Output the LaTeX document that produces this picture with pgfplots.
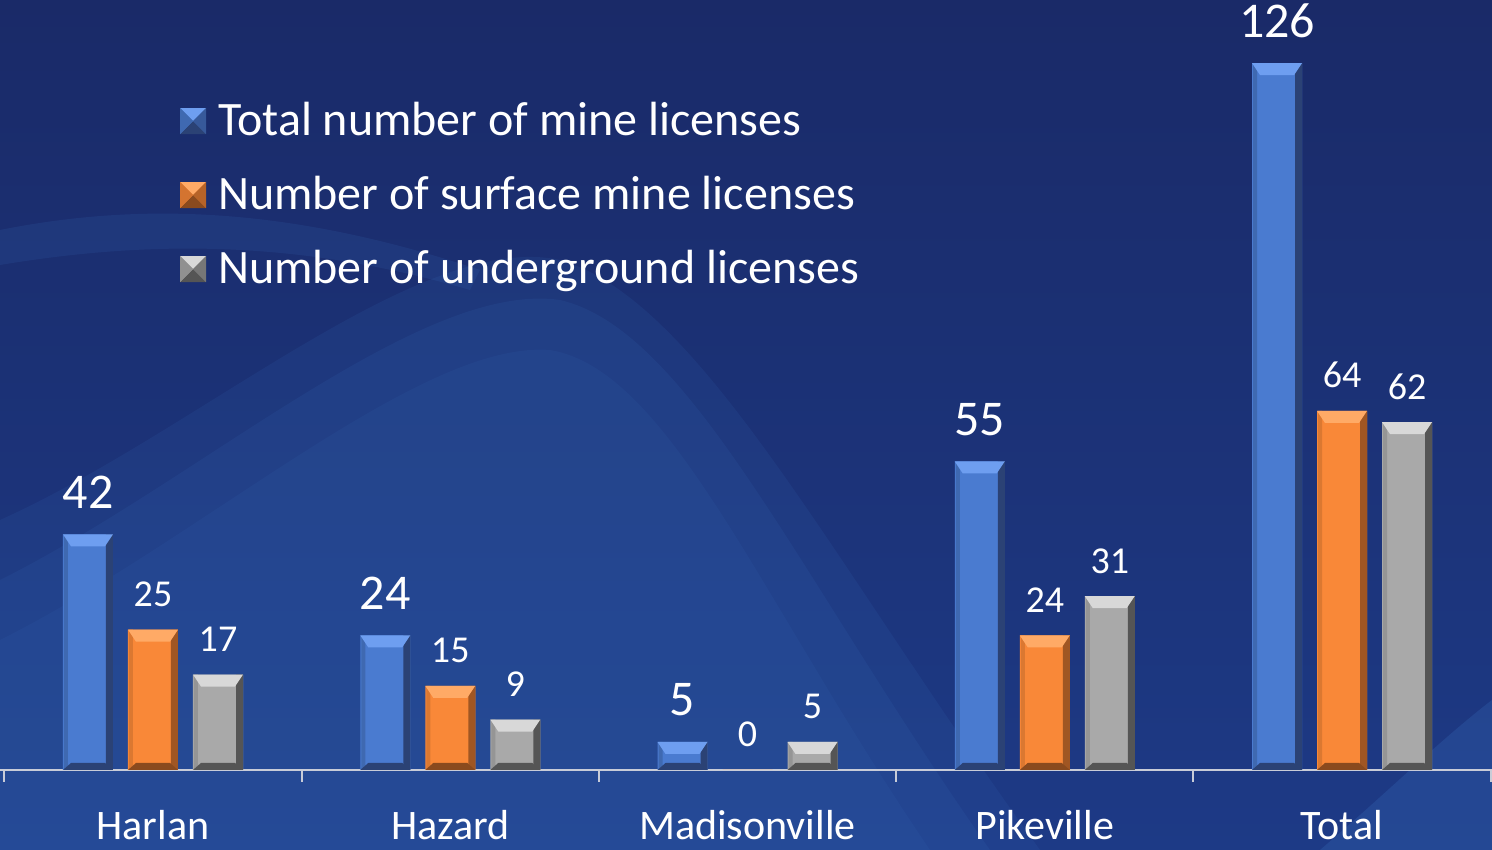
\documentclass[border=0pt]{standalone}
\usepackage{fontspec}
\setmainfont{Carlito}
\usepackage{pgfplots}
\pgfplotsset{compat=1.18}

\definecolor{bgdark}{HTML}{1A2A68}
\definecolor{bgmid}{HTML}{1D3A86}
\definecolor{wave}{HTML}{3A72C0}
\definecolor{bluebar}{HTML}{4A7BD0}
\definecolor{bluetop}{HTML}{6E9EF0}
\definecolor{blueside}{HTML}{2B4275}
\definecolor{orangebar}{HTML}{F98838}
\definecolor{orangetop}{HTML}{FFAA66}
\definecolor{orangeside}{HTML}{8A4A1E}
\definecolor{graybar}{HTML}{A9A9A9}
\definecolor{graytop}{HTML}{D8D8D8}
\definecolor{grayside}{HTML}{555555}
\definecolor{axisgray}{HTML}{C8CCD8}

% top and bottom bevels, placed at the bar ends
\pgfdeclareplotmark{captop}{%
  \pgfpathmoveto{\pgfpoint{-25pt}{0pt}}\pgfpathlineto{\pgfpoint{25pt}{0pt}}%
  \pgfpathlineto{\pgfpoint{17pt}{-12pt}}\pgfpathlineto{\pgfpoint{-17pt}{-12pt}}%
  \pgfpathclose\pgfusepath{fill}}
\pgfdeclareplotmark{capbottom}{%
  \pgfpathmoveto{\pgfpoint{-25pt}{0pt}}\pgfpathlineto{\pgfpoint{25pt}{0pt}}%
  \pgfpathlineto{\pgfpoint{17pt}{7pt}}\pgfpathlineto{\pgfpoint{-17pt}{7pt}}%
  \pgfpathclose\pgfusepath{fill}}

\pgfplotsset{
  bevelbar/.style n args={4}{ybar, bar shift=#1, draw=none, fill=#2,
    nodes near coords, nodes near coords style={text=white, anchor=base, inner sep=0pt, xshift=#1},
    legend image code/.code={
      \fill[#2] (0pt,-11pt) rectangle (26pt,15pt);
      \fill[#3] (0pt,15pt) -- (26pt,15pt) -- (13pt,2pt) -- cycle;
      \fill[#4] (0pt,-11pt) -- (26pt,-11pt) -- (13pt,2pt) -- cycle;
      \fill[#4!60!#2] (26pt,15pt) -- (26pt,-11pt) -- (13pt,2pt) -- cycle;
      \fill[#2!85!black] (0pt,15pt) -- (0pt,-11pt) -- (13pt,2pt) -- cycle;}},
  bevelside/.style 2 args={ybar, forget plot, draw=none, fill=#2, bar width=7pt, bar shift=#1},
  bevelcap/.style n args={3}{only marks, forget plot, mark=#2,
    mark options={fill=#3, draw=none, xshift=#1}},
}

\begin{document}
\begin{tikzpicture}
% background, in image pixel coordinates (y downwards)
\begin{scope}[shift={(0,770pt)}, x=1pt, y=-1pt]
  \shade[top color=bgdark, bottom color=bgmid] (0,0) rectangle (1492,850);
  \fill[wave, opacity=0.12] (0,520) .. controls (200,430) and (420,230) .. (560,260)
     .. controls (700,300) and (830,560) .. (1040,850) -- (0,850) -- cycle;
  \fill[wave, opacity=0.12] (0,580) .. controls (200,480) and (420,280) .. (560,300)
     .. controls (690,330) and (800,580) .. (990,850) -- (0,850) -- cycle;
  \fill[wave, opacity=0.10] (0,640) .. controls (200,540) and (420,340) .. (550,350)
     .. controls (670,370) and (760,600) .. (930,850) -- (0,850) -- cycle;
  \fill[wave, opacity=0.15] (0,230) .. controls (150,200) and (300,210) .. (480,270)
     -- (470,290) .. controls (300,240) and (150,240) .. (0,265) -- cycle;
  \fill[wave, opacity=0.25] (1320,850) .. controls (1390,790) and (1440,740) .. (1492,700)
     -- (1492,850) -- cycle;
\end{scope}

\begin{axis}[
  scale only axis, width=1492pt, height=770pt,
  xmin=-0.5147, xmax=4.5046, ymin=0, ymax=137.25,
  clip=false,
  axis x line=bottom, axis y line=none,
  x axis line style={-, color=axisgray, line width=2pt},
  xtick={0,...,4},
  xticklabels={Harlan,Hazard,Madisonville,Pikeville,Total},
  minor xtick={-0.5,0.5,1.5,2.5,3.5,4.5},
  tick align=outside,
  major tick length=0pt, minor tick length=12pt,
  minor tick style={color=axisgray, line width=2pt},
  xticklabel style={font=\fontsize{42}{50}\selectfont, text=white, anchor=base, yshift=-70pt},
  bar width=50pt,
  /pgf/number format/assume math mode=true,
  legend style={at={(axis description cs:0.1206,0.869)}, anchor=north west,
    draw=none, fill=none, inner sep=0pt, row sep=30pt, column sep=12pt,
    nodes={inner sep=0pt, text height=34pt, text depth=10pt, text=white,
      font=\fontsize{48}{56}\selectfont}},
  legend cell align=left,
]
\addplot[bevelbar={-65pt}{bluebar}{bluetop}{blueside},
  every node near coord/.append style={font=\fontsize{50}{60}\selectfont, yshift=26pt}]
  coordinates {(0,42) (1,24) (2,5) (3,55) (4,126)};
\addplot[bevelbar={0pt}{orangebar}{orangetop}{orangeside},
  every node near coord/.append style={font=\fontsize{38}{46}\selectfont, yshift=23pt}]
  coordinates {(0,25) (1,15) (2,0) (3,24) (4,64)};
\addplot[bevelbar={65pt}{graybar}{graytop}{grayside},
  every node near coord/.append style={font=\fontsize{38}{46}\selectfont, yshift=23pt}]
  coordinates {(0,17) (1,9) (2,5) (3,31) (4,62)};
% bevel sides
\addplot[bevelside={-43.5pt}{blueside}] coordinates {(0,42) (1,24) (2,5) (3,55) (4,126)};
\addplot[bevelside={-87pt}{bluebar!85!black}, bar width=4pt] coordinates {(0,42) (1,24) (2,5) (3,55) (4,126)};
\addplot[bevelside={21.5pt}{orangeside!80!orangebar}] coordinates {(0,25) (1,15) (3,24) (4,64)};
\addplot[bevelside={-22pt}{orangebar!88!black}, bar width=4pt] coordinates {(0,25) (1,15) (3,24) (4,64)};
\addplot[bevelside={86.5pt}{grayside}] coordinates {(0,17) (1,9) (2,5) (3,31) (4,62)};
\addplot[bevelside={43pt}{graybar!88!black}, bar width=4pt] coordinates {(0,17) (1,9) (2,5) (3,31) (4,62)};
% bevel caps
\addplot[bevelcap={-65pt}{captop}{bluetop}] coordinates {(0,42) (1,24) (2,5) (3,55) (4,126)};
\addplot[bevelcap={-65pt}{capbottom}{blueside}] coordinates {(0,0) (1,0) (2,0) (3,0) (4,0)};
\addplot[bevelcap={0pt}{captop}{orangetop}] coordinates {(0,25) (1,15) (3,24) (4,64)};
\addplot[bevelcap={0pt}{capbottom}{orangeside}] coordinates {(0,0) (1,0) (3,0) (4,0)};
\addplot[bevelcap={65pt}{captop}{graytop}] coordinates {(0,17) (1,9) (2,5) (3,31) (4,62)};
\addplot[bevelcap={65pt}{capbottom}{grayside}] coordinates {(0,0) (1,0) (2,0) (3,0) (4,0)};
\legend{Total number of mine licenses, Number of surface mine licenses, Number of underground licenses}
\end{axis}
\pgfresetboundingbox
\useasboundingbox (0,-80pt) rectangle (1492pt,770pt);
\end{tikzpicture}
\end{document}
